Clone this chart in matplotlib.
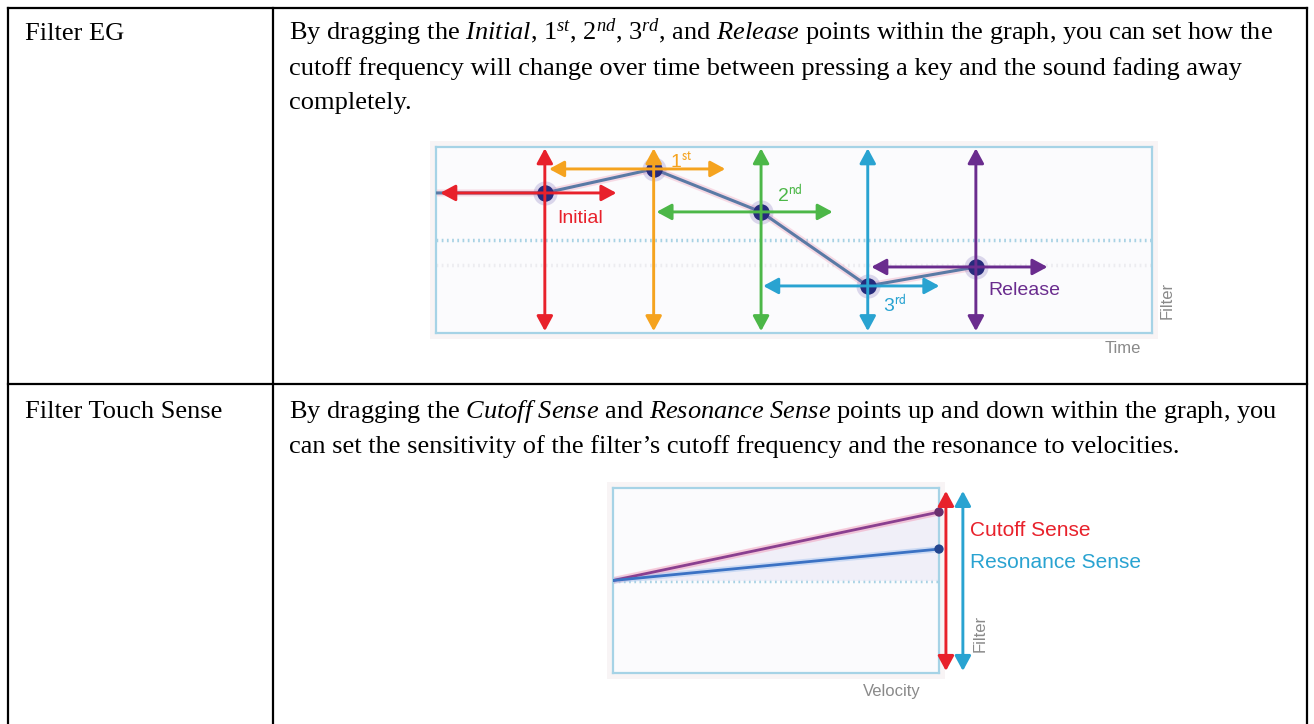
import matplotlib
matplotlib.use('Agg')
import matplotlib.pyplot as plt
from matplotlib.patches import Rectangle

# 表格文字
row_names = ['Filter EG', 'Filter Touch Sense']
row1_lines = [
    r'By dragging the $\mathit{Initial}$, $\mathit{1^{st}}$, $\mathit{2^{nd}}$, $\mathit{3^{rd}}$, '
    r'and $\mathit{Release}$ points within the graph, you can set how the',
    'cutoff frequency will change over time between pressing a key and the sound fading away',
    'completely.',
]
row2_lines = [
    r'By dragging the $\mathit{Cutoff\ Sense}$ and $\mathit{Resonance\ Sense}$ points up and down within the graph, you',
    'can set the sensitivity of the filter\u2019s cutoff frequency and the resonance to velocities.',
]

# Filter EG 图 (时间 0-100, 电平 0-100)
eg_names = ['Initial', '1$^{\\rm st}$', '2$^{\\rm nd}$', '3$^{\\rm rd}$', 'Release']
eg_time = [15.2, 30.4, 45.4, 60.3, 75.4]
eg_level = [75.3, 88.2, 65.1, 25.3, 35.5]
eg_colors = ['#e8212b', '#f5a31f', '#4cb748', '#29a3d1', '#6a2c8e']
eg_label_pos = [(16.9, 59.1), (32.7, 89.2), (47.6, 70.4), (62.4, 10.8), (77.1, 20.4)]

# Filter Touch Sense 图 (velocity 0-127)
touch_names = ['Cutoff Sense', 'Resonance Sense']
touch_velocity = [0, 127]
touch_cutoff = [50, 87]
touch_resonance = [50, 67]
touch_colors = ['#e8212b', '#29a3d1']

plt.rcParams['mathtext.fontset'] = 'custom'
plt.rcParams['mathtext.rm'] = 'Liberation Serif'
plt.rcParams['mathtext.it'] = 'Liberation Serif:italic'
plt.rcParams['mathtext.bf'] = 'Liberation Serif:bold'

W, H = 1314, 724
fig = plt.figure(figsize=(W / 100, H / 100), dpi=100)
page = fig.add_axes([0, 0, 1, 1])
page.set_xlim(0, W)
page.set_ylim(H, 0)
page.axis('off')

# 表格边框
lw_tab = 1.6
page.plot([8, 1307], [8, 8], color='black', lw=lw_tab)
page.plot([8, 1307], [384, 384], color='black', lw=lw_tab)
for xx in [8, 273, 1307]:
    page.plot([xx, xx], [8, H], color='black', lw=lw_tab)

body = dict(family='Liberation Serif', fontsize=19, color='black', va='baseline')
page.text(25, 40, row_names[0], **body)
page.text(25, 418, row_names[1], **body)
for i, s in enumerate(row1_lines):
    page.text(289, 40 + i * 34.5, s, **body)
for i, s in enumerate(row2_lines):
    page.text(289, 418 + i * 34.5, s, **body)

sans = 'Liberation Sans'
gray = '#8a8a8a'
box_edge = '#a6d3e6'
dot_style = (0, (0.5, 1.0))


def arrow(ax, p0, p1, color):
    ax.annotate('', xy=p1, xytext=p0, annotation_clip=False,
                arrowprops=dict(arrowstyle='<|-|>,head_length=0.5,head_width=0.27',
                                color=color, lw=2.1, mutation_scale=18,
                                shrinkA=0, shrinkB=0), zorder=6)


def make_graph(x0, y0, x1, y1, xmax):
    page.add_patch(Rectangle((x0 - 6, y0 - 6), x1 - x0 + 12, y1 - y0 + 12,
                             facecolor='#f8f4f5', edgecolor='none', zorder=0))
    ax = fig.add_axes([x0 / W, 1 - y1 / H, (x1 - x0) / W, (y1 - y0) / H])
    ax.set_xlim(0, xmax)
    ax.set_ylim(0, 100)
    ax.set_facecolor('#fbfbfd')
    ax.set_xticks([])
    ax.set_yticks([])
    for sp in ax.spines.values():
        sp.set_color(box_edge)
        sp.set_linewidth(1.6)
    ax.axhline(50, color='#a8d2e4', lw=2.5, ls=dot_style, zorder=1)
    return ax


# ---- Filter EG ----
ax1 = make_graph(436, 147, 1152, 333, 100)
ax1.axhline(36.5, color='#ececf0', lw=2.5, ls=dot_style, zorder=1)
env_t = [0] + eg_time
env_l = [eg_level[0]] + eg_level
ax1.plot(env_t, env_l, color='#f2b8cc', lw=5, alpha=0.5, zorder=2, solid_capstyle='round')
ax1.plot(env_t, env_l, color='#5a7aa5', lw=2.2, zorder=3)
ax1.scatter(eg_time, eg_level, s=300, color='#7a6ab8', alpha=0.25, zorder=4, linewidths=0)
ax1.scatter(eg_time, eg_level, s=140, color='#262b7c', zorder=4, linewidths=0)
for t, lv, c, name, (lx, ly) in zip(eg_time, eg_level, eg_colors, eg_names, eg_label_pos):
    arrow(ax1, (t - 14.6, lv), (t + 10.0, lv), c)
    arrow(ax1, (t, 1.0), (t, 99.3), c)
    ax1.text(lx, ly, name, color=c, fontsize=14, family=sans, va='baseline',
             math_fontfamily='stixsans', zorder=7)
page.text(1141, 353, 'Time', color=gray, fontsize=12, family=sans, ha='right', va='baseline')
page.text(1167, 300, 'Filter', color=gray, fontsize=12, family=sans, rotation=90,
          ha='center', va='center')

# ---- Filter Touch Sense ----
ax2 = make_graph(613, 488, 939, 673, 127)
ax2.fill_between(touch_velocity, 50, touch_cutoff, color='#ecebf7', alpha=0.7, zorder=1, lw=0)
ax2.plot(touch_velocity, touch_cutoff, color='#f19bb9', lw=5, alpha=0.5, zorder=2)
ax2.plot(touch_velocity, touch_cutoff, color='#8a3f90', lw=2.0, zorder=3)
ax2.plot(touch_velocity, touch_resonance, color='#a9c6ef', lw=4.5, alpha=0.5, zorder=2)
ax2.plot(touch_velocity, touch_resonance, color='#3b72c4', lw=2.0, zorder=3)
ax2.scatter([touch_velocity[1]] * 2, [touch_cutoff[1], touch_resonance[1]], s=45,
            color=['#6a2f6e', '#24468f'], zorder=4, clip_on=False, linewidths=0)
arrow(ax2, (129.7, 1.1), (129.7, 98.4), touch_colors[0])
arrow(ax2, (136.3, 1.1), (136.3, 98.4), touch_colors[1])
page.text(970, 530, touch_names[0], color=touch_colors[0], fontsize=15, family=sans, va='center')
page.text(970, 562, touch_names[1], color=touch_colors[1], fontsize=15, family=sans, va='center')
page.text(892, 696, 'Velocity', color=gray, fontsize=12, family=sans, ha='center', va='baseline')
page.text(980, 633, 'Filter', color=gray, fontsize=12, family=sans, rotation=90,
          ha='center', va='center')

fig.savefig('out.png', dpi=100)
